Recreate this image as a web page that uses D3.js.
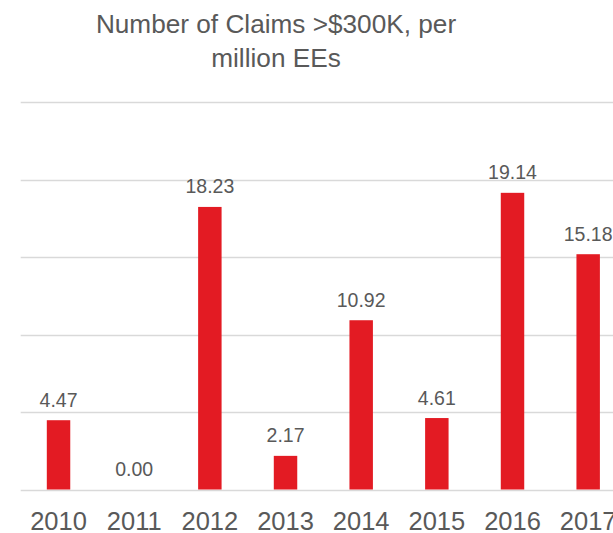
<!DOCTYPE html>
<html>
<head>
<meta charset="utf-8">
<script src="https://cdn.jsdelivr.net/npm/d3@7"></script>
<style>
	body { margin: 0; background: #fff; overflow: hidden; }
	text { font-family: "Liberation Sans", Arial, sans-serif; fill: #595959; }
</style>
</head>
<body>
<div id="chart"></div>
<script>
var WIDTH = 613;
var HEIGHT = 533;

var years = ['2010', '2011', '2012', '2013', '2014', '2015', '2016', '2017'];
var claims = [4.47, 0.00, 18.23, 2.17, 10.92, 4.61, 19.14, 15.18];
var gridTicks = [0, 5, 10, 15, 20, 25];
var titleLines = ['Number of Claims >$300K, per', 'million EEs'];

var svg = d3.select('#chart').append('svg')
	.attr('width', WIDTH)
	.attr('height', HEIGHT);

// plot runs past the right edge, as in the original
var x = d3.scaleBand()
	.domain(years)
	.range([20.7, 626])
	.paddingInner(0.69)
	.paddingOuter(0.345);

var y = d3.scaleLinear()
	.domain([0, 25])
	.range([489.5, 102]);

svg.selectAll('line.grid')
	.data(gridTicks)
	.enter().append('line')
	.attr('class', 'grid')
	.attr('x1', 20.7)
	.attr('x2', WIDTH)
	.attr('y1', function(d) { return Math.round(y(d)) + 0.5; })
	.attr('y2', function(d) { return Math.round(y(d)) + 0.5; })
	.attr('stroke', '#d9d9d9')
	.attr('stroke-width', 1.5);

svg.selectAll('rect.bar')
	.data(claims)
	.enter().append('rect')
	.attr('class', 'bar')
	.attr('x', function(d, i) { return x(years[i]); })
	.attr('width', x.bandwidth())
	.attr('y', function(d) { return y(d); })
	.attr('height', function(d) { return y(0) - y(d); })
	.attr('fill', '#e31b23');

svg.selectAll('text.val')
	.data(claims)
	.enter().append('text')
	.attr('class', 'val')
	.attr('x', function(d, i) { return x(years[i]) + x.bandwidth() / 2; })
	.attr('y', function(d) { return y(d) - 13.5; })
	.attr('text-anchor', 'middle')
	.attr('font-size', 19.5)
	.text(function(d) { return d.toFixed(2); });

var xAxis = svg.append('g')
	.attr('transform', 'translate(0,' + y(0) + ')')
	.call(d3.axisBottom(x).tickSize(0).tickPadding(0));
xAxis.select('.domain').remove();
xAxis.selectAll('text')
	.attr('dy', null)
	.attr('y', 40)
	.attr('font-size', 25.5)
	.attr('font-family', '"Liberation Sans", Arial, sans-serif')
	.attr('fill', '#595959');

svg.selectAll('text.title')
	.data(titleLines)
	.enter().append('text')
	.attr('class', 'title')
	.attr('x', 276)
	.attr('y', function(d, i) { return 33 + i * 34; })
	.attr('text-anchor', 'middle')
	.attr('font-size', 26.2)
	.text(function(d) { return d; });
</script>
</body>
</html>
